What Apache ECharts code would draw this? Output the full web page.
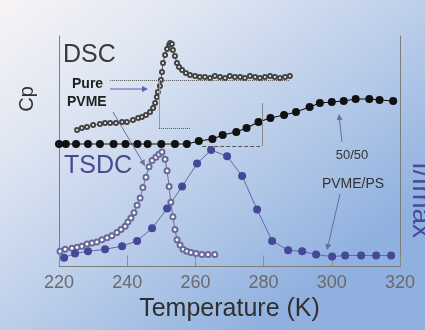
<!DOCTYPE html>
<html>
<head>
<meta charset="utf-8">
<script src="https://cdn.jsdelivr.net/npm/echarts@6/dist/echarts.min.js"></script>
<style>
html,body{margin:0;padding:0;background:#fff;}
#c{width:425px;height:330px;}
</style>
</head>
<body>
<div id="c"></div>
<script>
// ---- data ----
const xTicks = [220, 240, 260, 280, 300, 320];

// DSC, 50/50 PVME/PS (filled black)
const tDsc5050 = [220, 222, 225, 228.5, 232, 236, 239.5, 243, 246, 250, 254, 257.5, 261, 265, 268, 272, 275, 278.5, 282, 286, 289.5, 293.5, 296.5, 300, 303.5, 307, 311, 314, 318];
const cpDsc5050 = [1.22, 1.22, 1.22, 1.22, 1.22, 1.22, 1.22, 1.22, 1.22, 1.22, 1.22, 1.22, 1.25, 1.27, 1.31, 1.34, 1.38, 1.44, 1.48, 1.51, 1.54, 1.59, 1.63, 1.64, 1.65, 1.67, 1.67, 1.66, 1.65];

// DSC, pure PVME (open, dense)
const tDscPure = [225.3, 226.7, 228.2, 230.0, 232.0, 233.5, 235.0, 236.7, 238.5, 239.9, 241.7, 243.2, 244.3, 245.5, 246.7, 247.6, 248.2, 248.7, 249.0, 249.6, 249.9, 250.2, 250.5, 251.1, 251.7, 252.3, 252.6, 253.1, 253.4, 254.0, 254.6, 255.2, 256.1, 257.2, 258.4, 259.9, 261.3, 262.8, 264.3, 265.7, 267.2, 268.7, 270.1, 271.6, 273.1, 274.5, 276.0, 277.5, 278.9, 280.4, 281.9, 283.3, 284.8, 286.3, 287.7];
const cpDscPure = [1.36, 1.38, 1.39, 1.41, 1.42, 1.43, 1.43, 1.43, 1.44, 1.44, 1.46, 1.48, 1.49, 1.51, 1.54, 1.58, 1.63, 1.69, 1.74, 1.80, 1.86, 1.94, 2.03, 2.11, 2.17, 2.21, 2.23, 2.22, 2.16, 2.10, 2.03, 1.99, 1.96, 1.93, 1.91, 1.90, 1.89, 1.89, 1.88, 1.90, 1.89, 1.88, 1.90, 1.89, 1.89, 1.88, 1.90, 1.89, 1.88, 1.89, 1.90, 1.89, 1.88, 1.89, 1.90];

// TSDC, pure PVME (open circles)
const tTsdcPure = [220.3, 221.8, 223.8, 225.3, 226.7, 228.2, 229.7, 231.1, 232.6, 234.1, 235.5, 237.0, 238.2, 239.4, 240.2, 241.1, 242.0, 242.9, 243.8, 244.6, 245.5, 246.4, 247.3, 248.4, 249.3, 250.2, 251.1, 251.7, 252.3, 252.8, 253.4, 254.0, 254.6, 255.5, 256.4, 257.5, 258.7, 260.2, 261.9, 263.7, 265.7];
const iTsdcPure = [0.04, 0.06, 0.07, 0.08, 0.09, 0.11, 0.12, 0.13, 0.15, 0.17, 0.19, 0.22, 0.25, 0.28, 0.32, 0.36, 0.41, 0.48, 0.55, 0.65, 0.75, 0.85, 0.91, 0.94, 0.97, 0.99, 0.92, 0.81, 0.66, 0.51, 0.37, 0.25, 0.15, 0.10, 0.06, 0.04, 0.03, 0.02, 0.01, 0.01, 0.01];

// TSDC, 50/50 PVME/PS (filled purple)
const tTsdc5050 = [221.5, 224.7, 228.5, 233.5, 238.5, 242.9, 247.3, 251.7, 256.1, 260.5, 264.6, 269.3, 273.7, 278.1, 282.5, 287.2, 291.3, 295.4, 300.1, 303.9, 308.6, 313.0, 317.4];
const iTsdc5050 = [-0.02, 0.02, 0.04, 0.06, 0.09, 0.14, 0.26, 0.45, 0.66, 0.88, 1.01, 0.95, 0.76, 0.44, 0.14, 0.05, 0.04, 0.01, -0.01, 0.00, 0.00, 0.00, 0.00];

const zip = (a, b) => a.map((v, i) => [v, b[i]]);
const FONT = '"Liberation Sans", Arial, sans-serif';

const chart = echarts.init(document.getElementById('c'), null, {renderer: 'canvas'});

function arrow(x1, y1, x2, y2, color, w) {
  const dx = x2 - x1, dy = y2 - y1, L = Math.hypot(dx, dy);
  const ux = dx / L, uy = dy / L, px = -uy, py = ux, hl = 6, hw = 3;
  return [
    {type: 'line', silent: true, shape: {x1, y1, x2: x2 - ux * hl * 0.8, y2: y2 - uy * hl * 0.8}, style: {stroke: color, lineWidth: w}},
    {type: 'polygon', silent: true, shape: {points: [[x2, y2], [x2 - ux * hl + px * hw, y2 - uy * hl + py * hw], [x2 - ux * hl - px * hw, y2 - uy * hl - py * hw]]}, style: {fill: color}}
  ];
}

const option = {
  animation: false,
  backgroundColor: new echarts.graphic.LinearGradient(0, 0, 0.6, 1, [
    {offset: 0, color: '#f8f4f6'},
    {offset: 0.3, color: '#dfe6f2'},
    {offset: 0.7, color: '#b4c9e8'},
    {offset: 1, color: '#90b1df'}
  ]),
  grid: {left: 59, right: 25, top: 36, bottom: 64},
  xAxis: [{
    type: 'value', min: 220, max: 320, interval: 20, position: 'bottom',
    axisLine: {show: true, lineStyle: {color: '#7c7c7c', width: 1}},
    axisTick: {show: true, inside: true, length: 5, lineStyle: {color: '#8a8a8a'}},
    axisLabel: {color: '#6a6a6a', fontSize: 18, fontFamily: FONT, margin: 8,
      formatter: v => xTicks.includes(v) ? String(v) : ''},
    splitLine: {show: false},
    name: 'Temperature (K)', nameLocation: 'middle', nameGap: 26,
    nameTextStyle: {color: '#2f2f2f', fontSize: 25, fontFamily: FONT}
  }, {
    type: 'value', min: 220, max: 320, interval: 20, position: 'top',
    axisLine: {show: false},
    axisTick: {show: true, inside: true, length: 5, lineStyle: {color: '#8a8a8a'}},
    axisLabel: {show: false}, splitLine: {show: false}
  }],
  yAxis: [{
    type: 'value', min: 0, max: 2.3, position: 'left',
    axisLine: {show: true, lineStyle: {color: '#7c7c7c'}},
    axisTick: {show: false}, axisLabel: {show: false}, splitLine: {show: false}
  }, {
    type: 'value', min: -0.1, max: 2.1, position: 'right',
    axisLine: {show: true, lineStyle: {color: '#7c7c7c'}},
    axisTick: {show: false}, axisLabel: {show: false}, splitLine: {show: false}
  }],
  series: [
    {
      name: 'DSC pure PVME', type: 'line', yAxisIndex: 0,
      data: zip(tDscPure, cpDscPure),
      symbol: 'emptyCircle', symbolSize: 4, showAllSymbol: true,
      lineStyle: {color: '#555', width: 1},
      itemStyle: {color: '#444', borderWidth: 1},
      markLine: {
        silent: true, symbol: 'none', label: {show: false},
        lineStyle: {color: '#555', width: 1, type: 'dotted'},
        data: [
          [{coord: [235, 1.86]}, {coord: [287.7, 1.86]}],
          [{coord: [249.3, 1.86]}, {coord: [249.3, 1.38], lineStyle: {type: 'solid', color: '#999'}}],
          [{coord: [249.3, 1.38]}, {coord: [258.5, 1.38]}]
        ]
      }
    },
    {
      name: 'DSC 50/50', type: 'line', yAxisIndex: 0,
      data: zip(tDsc5050, cpDsc5050),
      symbol: 'circle', symbolSize: 8,
      lineStyle: {color: '#111', width: 1.2},
      itemStyle: {color: '#111'},
      markLine: {
        silent: true, symbol: 'none', label: {show: false},
        lineStyle: {color: '#555', width: 1, type: 'dashed'},
        data: [
          [{coord: [262, 1.20]}, {coord: [279.5, 1.20]}],
          [{coord: [279.5, 1.20], lineStyle: {type: 'solid', color: '#888'}}, {coord: [279.5, 1.63]}]
        ]
      }
    },
    {
      name: 'TSDC pure PVME', type: 'line', yAxisIndex: 1,
      data: zip(tTsdcPure, iTsdcPure),
      symbol: 'emptyCircle', symbolSize: 5, showAllSymbol: true,
      lineStyle: {color: '#6c6c9c', width: 1},
      itemStyle: {color: '#6a6a9a', borderWidth: 1}
    },
    {
      name: 'TSDC 50/50', type: 'line', yAxisIndex: 1,
      data: zip(tTsdc5050, iTsdc5050),
      symbol: 'circle', symbolSize: 8,
      lineStyle: {color: '#6565a8', width: 1},
      itemStyle: {color: '#47479a'}
    }
  ],
  graphic: [
    {type: 'text', silent: true, x: 63, y: 55, style: {text: 'DSC', font: '25px ' + FONT, fill: '#3a3a3a', align: 'left', verticalAlign: 'middle'}},
    {type: 'text', silent: true, x: 64, y: 166, style: {text: 'TSDC', font: '25px ' + FONT, fill: '#4a4a90', align: 'left', verticalAlign: 'middle'}},
    {type: 'text', silent: true, x: 72, y: 84, style: {text: 'Pure', font: '600 14px ' + FONT, fill: '#222', align: 'left', verticalAlign: 'middle'}},
    {type: 'text', silent: true, x: 67, y: 102, style: {text: 'PVME', font: '600 14px ' + FONT, fill: '#222', align: 'left', verticalAlign: 'middle'}},
    {type: 'text', silent: true, x: 352, y: 155, style: {text: '50/50', font: '13px ' + FONT, fill: '#333', align: 'center', verticalAlign: 'middle'}},
    {type: 'text', silent: true, x: 353, y: 184, style: {text: 'PVME/PS', font: '14px ' + FONT, fill: '#333', align: 'center', verticalAlign: 'middle'}},
    {type: 'text', silent: true, x: 27, y: 99, rotation: Math.PI / 2, style: {text: 'Cp', font: '20px ' + FONT, fill: '#333', align: 'center', verticalAlign: 'middle'}},
    {type: 'text', silent: true, x: 407, y: 200, rotation: -Math.PI / 2, style: {text: 'I/Imax', font: '28px ' + FONT, fill: '#4a4a99', align: 'center', verticalAlign: 'bottom'}},
    ...arrow(110, 89, 148, 89, '#5f5fb0', 1.2),
    ...arrow(113, 112, 145, 166, '#707098', 1),
    ...arrow(342, 142, 339, 114, '#6a6aa8', 1),
    ...arrow(340, 194, 327, 250, '#6a6aa8', 1)
  ]
};
chart.setOption(option);
</script>
</body>
</html>
